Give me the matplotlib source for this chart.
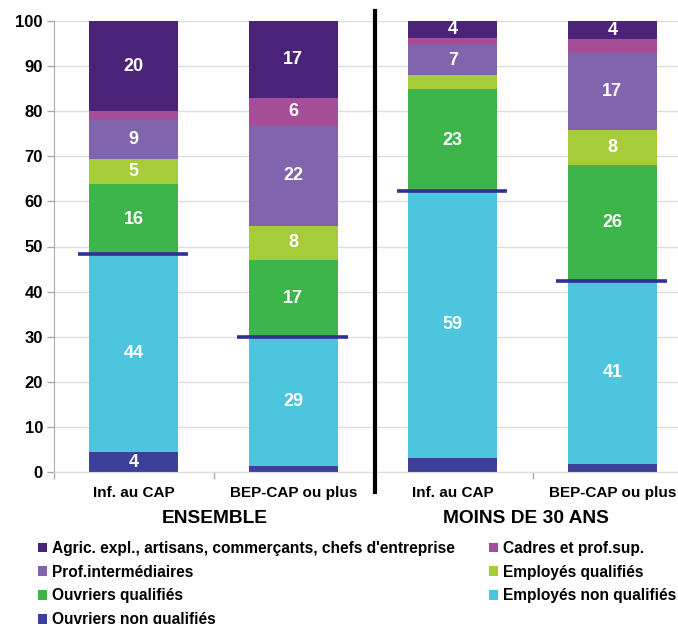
import matplotlib
matplotlib.use("Agg")
import matplotlib.pyplot as plt
from matplotlib.patches import Patch
import matplotlib.transforms as mtransforms
import numpy as np

plt.rcParams['font.family'] = ['Liberation Sans', 'DejaVu Sans']
plt.rcParams['font.weight'] = 'bold'

categories = ["Inf. au CAP", "BEP-CAP ou plus", "Inf. au CAP", "BEP-CAP ou plus"]
groups = ["ENSEMBLE", "MOINS DE 30 ANS"]

# stacked from bottom to top, one value per bar
ouvriers_nq = [4.4, 1.4, 3.2, 1.8]
employes_nq = [43.8, 28.6, 59.1, 40.6]
ouvriers_q = [15.7, 17.0, 22.6, 25.7]
employes_q = [5.4, 7.6, 3.1, 7.7]
prof_inter = [8.7, 22.2, 6.7, 17.1]
cadres = [2.0, 6.1, 1.5, 3.1]
agric = [20.0, 17.1, 3.8, 4.0]

# level of the horizontal mark on each bar
marks = [48.3, 30.0, 62.4, 42.3]

series = [
    ("Ouvriers non qualifiés", ouvriers_nq, "#3B4199"),
    ("Employés non qualifiés", employes_nq, "#4DC5DE"),
    ("Ouvriers qualifiés", ouvriers_q, "#3EB54B"),
    ("Employés qualifiés", employes_q, "#A6CC39"),
    ("Prof.intermédiaires", prof_inter, "#8064AD"),
    ("Cadres et prof.sup.", cadres, "#A64D98"),
    ("Agric. expl., artisans, commerçants, chefs d'entreprise", agric, "#4A2378"),
]

fig = plt.figure(figsize=(6.78, 6.24), dpi=100)
ax = fig.add_axes([54 / 678, 152 / 624, 1 - 54 / 678, 451 / 624])

x = np.arange(len(categories))
width = 0.56
bottom = np.zeros(len(categories))
for name, vals, color in series:
    vals = np.array(vals)
    ax.bar(x, vals, width, bottom=bottom, color=color, zorder=2)
    for xi, b, v in zip(x, bottom, vals):
        if v >= 3.5:
            ax.text(xi, b + v / 2, str(int(round(v))), ha="center", va="center",
                    color="white", fontsize=13, fontweight="bold", zorder=3)
    bottom += vals

ax.hlines(marks, x - 0.35, x + 0.34, color="#2E3192", lw=2.6, zorder=4)

ax.plot([1.51, 1.51], [-4.4, 102.3], color="black", lw=3, clip_on=False, zorder=5)

ax.set_xlim(-0.5, (678 - 135.5) / 159)
ax.set_ylim(0, 100)
ax.set_yticks(range(0, 101, 10))
ax.set_xticks(x)
ax.set_xticklabels(categories, fontsize=11, fontweight="bold")
ax.set_xticks([-0.5, 0.5, 2.5], minor=True)
ax.tick_params(axis="x", which="major", length=0, pad=10)
ax.tick_params(axis="x", which="minor", length=5, color="#AAAAAA", width=1)
ax.tick_params(axis="y", length=5, color="#AAAAAA", width=1, labelsize=12, pad=3)
for lab in ax.get_yticklabels():
    lab.set_fontweight("bold")

ax.grid(axis="y", color="#DDDDDD", lw=1, zorder=0)
for s in ["top", "right"]:
    ax.spines[s].set_visible(False)
ax.spines["left"].set_color("#AAAAAA")
ax.spines["bottom"].set_color("#DDDDDD")

trans = mtransforms.blended_transform_factory(ax.transData, ax.transAxes)
ax.text(0.51, -0.104, groups[0], transform=trans, ha="center", va="center",
        fontsize=13.8, fontweight="bold")
ax.text(2.46, -0.104, groups[1], transform=trans, ha="center", va="center",
        fontsize=13.8, fontweight="bold")

handles = {name: Patch(facecolor=color) for name, _, color in series}
col1 = ["Agric. expl., artisans, commerçants, chefs d'entreprise",
        "Prof.intermédiaires", "Ouvriers qualifiés", "Ouvriers non qualifiés"]
col2 = ["Cadres et prof.sup.", "Employés qualifiés", "Employés non qualifiés"]
for names, xpos in [(col1, 38 / 678), (col2, 489 / 678)]:
    fig.legend([handles[n] for n in names], names, loc="upper left",
               bbox_to_anchor=(xpos, 1 - 541 / 624), frameon=False,
               borderpad=0, borderaxespad=0, handlelength=0.6, handleheight=0.6,
               handletextpad=0.3, labelspacing=0.56,
               prop={"size": 11.2, "weight": "bold"})

fig.savefig("out.png", dpi=100)
